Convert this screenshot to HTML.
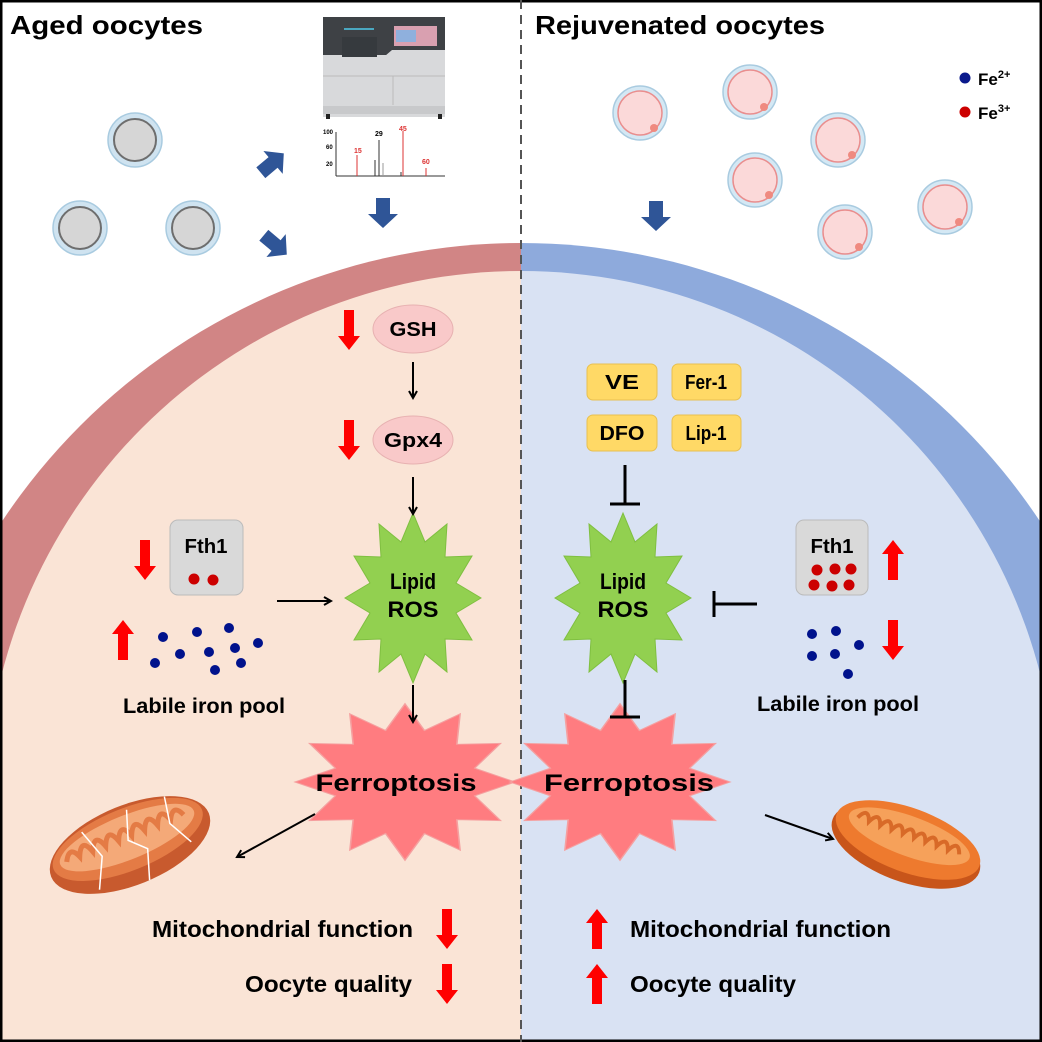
<!DOCTYPE html>
<html><head><meta charset="utf-8"><style>
html,body{margin:0;padding:0;background:#fff;width:1042px;height:1042px;overflow:hidden}
svg{display:block;position:absolute;left:0;top:0}
text{font-family:"Liberation Sans",Arial,sans-serif;font-weight:bold;fill:#000}
</style></head><body>
<svg width="1042" height="1042" viewBox="0 0 1042 1042" xmlns="http://www.w3.org/2000/svg">
<defs>
<polygon id="star" points="68,0 43,15 59,42 32,41 34,74 12,56 0,85 -12,56 -34,74 -32,41 -59,42 -43,15 -68,0 -43,-15 -59,-42 -32,-41 -34,-74 -12,-56 0,-85 12,-56 34,-74 32,-41 59,-42 43,-15"/>
<marker id="ah" markerWidth="10" markerHeight="10" refX="8" refY="5" orient="auto" markerUnits="userSpaceOnUse"><path d="M1,1 L8,5 L1,9" fill="none" stroke="#000" stroke-width="2"/></marker>
<clipPath id="cl"><rect x="0" y="0" width="521" height="1042"/></clipPath>
<clipPath id="cr"><rect x="521" y="0" width="521" height="1042"/></clipPath>
<g id="oo"><circle r="27" fill="#cfe3f0" stroke="#a9cbe0" stroke-width="1.5"/><circle r="21" fill="#d6d6d6" stroke="#6e6e6e" stroke-width="2"/></g>
<g id="po"><circle r="27" fill="#d4e8f4" stroke="#a9cbe0" stroke-width="1.5"/><circle r="22" fill="#fbd9d9" stroke="#e98e8e" stroke-width="1.5"/><circle cx="14" cy="15" r="4" fill="#ef8a80"/></g>
</defs>
<rect width="1042" height="1042" fill="#fff"/>
<g clip-path="url(#cl)">
<circle cx="521" cy="866" r="623" fill="#d18585"/>
<circle cx="521" cy="807" r="536" fill="#fae4d6"/>
<rect x="0" y="807" width="521" height="240" fill="#fae4d6"/>
</g>
<g clip-path="url(#cr)">
<circle cx="521" cy="866" r="623" fill="#8eaadc"/>
<circle cx="521" cy="807" r="536" fill="#d9e2f3"/>
<rect x="521" y="807" width="521" height="240" fill="#d9e2f3"/>
</g>
<rect x="0" y="0" width="1042" height="1042" fill="none" stroke="#000" stroke-width="5"/>
<line x1="521" y1="0" x2="521" y2="1042" stroke="#555" stroke-width="2" stroke-dasharray="9,6"/>
<text x="10" y="34" font-size="26" textLength="193" lengthAdjust="spacingAndGlyphs">Aged oocytes</text>
<text x="535" y="34" font-size="26" textLength="290" lengthAdjust="spacingAndGlyphs">Rejuvenated oocytes</text>
<use href="#oo" x="135" y="140"/><use href="#oo" x="80" y="228"/><use href="#oo" x="193" y="228"/>
<use href="#po" x="640" y="113"/><use href="#po" x="750" y="92"/><use href="#po" x="838" y="140"/>
<use href="#po" x="755" y="180"/><use href="#po" x="845" y="232"/><use href="#po" x="945" y="207"/>
<circle cx="965" cy="78" r="5.5" fill="#0a1a8c"/><text x="978" y="85" font-size="17">Fe<tspan font-size="11" dy="-7">2+</tspan></text>
<circle cx="965" cy="112" r="5.5" fill="#c00"/><text x="978" y="119" font-size="17">Fe<tspan font-size="11" dy="-7">3+</tspan></text>
<g fill="#2f5597">
<polygon points="-12,-7 4,-7 4,-15 18,0 4,15 4,7 -12,7" transform="translate(270,165) rotate(-40)"/>
<polygon points="-12,-7 4,-7 4,-15 18,0 4,15 4,7 -12,7" transform="translate(273,243) rotate(40)"/>
<polygon points="-12,-7 4,-7 4,-15 18,0 4,15 4,7 -12,7" transform="translate(383,210) rotate(90)"/>
<polygon points="-12,-7 4,-7 4,-15 18,0 4,15 4,7 -12,7" transform="translate(656,213) rotate(90)"/>
</g>
<rect x="323" y="17" width="122" height="45" fill="#3e4145"/>
<rect x="323" y="55" width="122" height="62" fill="#d8d9db"/>
<path d="M323,62 L378,62 L392,50 L445,50 L445,62" fill="#d8d9db"/>
<rect x="394" y="26" width="43" height="20" fill="#d9a0b0"/>
<rect x="396" y="30" width="20" height="12" fill="#8fb0dd"/>
<rect x="344" y="28" width="30" height="2" fill="#4aa7c0"/>
<rect x="342" y="37" width="35" height="20" fill="#363a3e"/>
<line x1="323" y1="76" x2="445" y2="76" stroke="#bbb"/>
<line x1="393" y1="76" x2="393" y2="105" stroke="#bbb"/>
<rect x="323" y="106" width="122" height="8" fill="#c8c9cb"/>
<rect x="326" y="114" width="4" height="5" fill="#222"/><rect x="438" y="114" width="4" height="5" fill="#222"/>
<g stroke-width="1">
<line x1="336" y1="132" x2="336" y2="176" stroke="#333"/>
<line x1="336" y1="176" x2="445" y2="176" stroke="#333"/>
<line x1="357" y1="176" x2="357" y2="155" stroke="#d33"/>
<line x1="375" y1="176" x2="375" y2="160" stroke="#333"/>
<line x1="379" y1="176" x2="379" y2="140" stroke="#333"/>
<line x1="383" y1="176" x2="383" y2="163" stroke="#999"/>
<line x1="403" y1="176" x2="403" y2="131" stroke="#d33"/>
<line x1="401" y1="176" x2="401" y2="172" stroke="#333"/>
<line x1="426" y1="176" x2="426" y2="168" stroke="#d33"/>
</g>
<g style="font-weight:normal">
<text x="323" y="134" font-size="6">100</text><text x="326" y="149" font-size="6">60</text><text x="326" y="166" font-size="6">20</text>
<text x="354" y="153" font-size="7" style="fill:#d33">15</text>
<text x="375" y="136" font-size="7">29</text>
<text x="399" y="131" font-size="7" style="fill:#d33">45</text>
<text x="422" y="164" font-size="7" style="fill:#d33">60</text>
</g>
<g fill="#f00">
<polygon points="-5,-20 5,-20 5,6 11,6 0,20 -11,6 -5,6" transform="translate(349,330)"/>
<polygon points="-5,-20 5,-20 5,6 11,6 0,20 -11,6 -5,6" transform="translate(349,440)"/>
<polygon points="-5,-20 5,-20 5,6 11,6 0,20 -11,6 -5,6" transform="translate(145,560)"/>
<polygon points="-5,-20 5,-20 5,6 11,6 0,20 -11,6 -5,6" transform="translate(123,640) rotate(180)"/>
<polygon points="-5,-20 5,-20 5,6 11,6 0,20 -11,6 -5,6" transform="translate(447,929)"/>
<polygon points="-5,-20 5,-20 5,6 11,6 0,20 -11,6 -5,6" transform="translate(447,984)"/>
<polygon points="-5,-20 5,-20 5,6 11,6 0,20 -11,6 -5,6" transform="translate(893,560) rotate(180)"/>
<polygon points="-5,-20 5,-20 5,6 11,6 0,20 -11,6 -5,6" transform="translate(893,640)"/>
<polygon points="-5,-20 5,-20 5,6 11,6 0,20 -11,6 -5,6" transform="translate(597,929) rotate(180)"/>
<polygon points="-5,-20 5,-20 5,6 11,6 0,20 -11,6 -5,6" transform="translate(597,984) rotate(180)"/>
</g>
<ellipse cx="413" cy="329" rx="40" ry="24" fill="#f9c9c9" stroke="#e7b1b1"/>
<text x="413" y="336" font-size="20" text-anchor="middle" textLength="47" lengthAdjust="spacingAndGlyphs">GSH</text>
<ellipse cx="413" cy="440" rx="40" ry="24" fill="#f9c9c9" stroke="#e7b1b1"/>
<text x="413" y="447" font-size="20" text-anchor="middle" textLength="58" lengthAdjust="spacingAndGlyphs">Gpx4</text>
<use href="#star" transform="translate(413,598)" fill="#92d050" stroke="#7fbf40"/>
<use href="#star" transform="translate(405,782) scale(1.62,0.92)" fill="#ff7c80" stroke="#f5a0a0"/>
<use href="#star" transform="translate(623,598)" fill="#92d050" stroke="#7fbf40"/>
<use href="#star" transform="translate(620,782) scale(1.62,0.92)" fill="#ff7c80" stroke="#f5a0a0"/>
<g stroke="#000" stroke-width="2" fill="none">
<line x1="413" y1="362" x2="413" y2="398" marker-end="url(#ah)"/>
<line x1="413" y1="477" x2="413" y2="514" marker-end="url(#ah)"/>
<line x1="277" y1="601" x2="331" y2="601" marker-end="url(#ah)"/>
<line x1="413" y1="685" x2="413" y2="722" marker-end="url(#ah)"/>
<line x1="315" y1="814" x2="237" y2="857" marker-end="url(#ah)"/>
<line x1="765" y1="815" x2="833" y2="839" marker-end="url(#ah)"/>
</g>
<text x="413" y="589" font-size="22" text-anchor="middle" textLength="46" lengthAdjust="spacingAndGlyphs">Lipid</text>
<text x="413" y="617" font-size="22" text-anchor="middle" textLength="51" lengthAdjust="spacingAndGlyphs">ROS</text>
<rect x="170" y="520" width="73" height="75" rx="8" fill="#d9d9d9" stroke="#bbb"/>
<text x="206" y="553" font-size="20" text-anchor="middle" textLength="43" lengthAdjust="spacingAndGlyphs">Fth1</text>
<circle cx="194" cy="579" r="5.5" fill="#c00"/><circle cx="213" cy="580" r="5.5" fill="#c00"/>
<g fill="#00128c">
<circle cx="163" cy="637" r="5"/><circle cx="197" cy="632" r="5"/><circle cx="229" cy="628" r="5"/><circle cx="258" cy="643" r="5"/>
<circle cx="180" cy="654" r="5"/><circle cx="209" cy="652" r="5"/><circle cx="235" cy="648" r="5"/>
<circle cx="155" cy="663" r="5"/><circle cx="215" cy="670" r="5"/><circle cx="241" cy="663" r="5"/>
</g>
<text x="204" y="713" font-size="21" text-anchor="middle" textLength="162" lengthAdjust="spacingAndGlyphs">Labile iron pool</text>
<text x="396" y="791" font-size="24" text-anchor="middle" textLength="161" lengthAdjust="spacingAndGlyphs">Ferroptosis</text>
<g transform="translate(130,845) rotate(-22)">
<ellipse rx="85" ry="40" fill="#c85a2e"/>
<ellipse rx="80" ry="31" cy="-6" fill="#e47b45"/>
<ellipse rx="72" ry="22" cy="-8" fill="#f4a978"/>
<path d="M-65,-8 q8,-15 14,0 q8,-18 14,0 q8,-18 14,0 q8,-18 14,0 q8,-18 14,0 q8,-18 14,0 q8,-18 14,0 q8,-18 14,0 q8,-15 14,0" fill="none" stroke="#e47b45" stroke-width="5"/>
<path d="M-40,-30 L-30,0 L-45,30 M10,-34 L0,-5 L15,10 L5,40 M50,-32 L45,-5 L58,20" stroke="#fff" stroke-width="1.5" fill="none"/>
</g>
<text x="413" y="937" font-size="23" text-anchor="end" textLength="261" lengthAdjust="spacingAndGlyphs">Mitochondrial function</text>
<text x="412" y="992" font-size="23" text-anchor="end" textLength="167" lengthAdjust="spacingAndGlyphs">Oocyte quality</text>
<g font-size="20" text-anchor="middle">
<rect x="587" y="364" width="70" height="36" rx="6" fill="#ffd966" stroke="#e8c050"/><text x="622" y="389" textLength="34" lengthAdjust="spacingAndGlyphs">VE</text>
<rect x="672" y="364" width="69" height="36" rx="6" fill="#ffd966" stroke="#e8c050"/><text x="706" y="389" textLength="42" lengthAdjust="spacingAndGlyphs">Fer-1</text>
<rect x="587" y="415" width="70" height="36" rx="6" fill="#ffd966" stroke="#e8c050"/><text x="622" y="440" textLength="45" lengthAdjust="spacingAndGlyphs">DFO</text>
<rect x="672" y="415" width="69" height="36" rx="6" fill="#ffd966" stroke="#e8c050"/><text x="706" y="440" textLength="41" lengthAdjust="spacingAndGlyphs">Lip-1</text>
</g>
<g stroke="#000" stroke-width="3">
<line x1="625" y1="465" x2="625" y2="504"/><line x1="610" y1="504" x2="640" y2="504"/>
<line x1="625" y1="680" x2="625" y2="717"/><line x1="610" y1="717" x2="640" y2="717"/>
<line x1="757" y1="604" x2="714" y2="604"/><line x1="714" y1="591" x2="714" y2="617"/>
</g>
<text x="623" y="589" font-size="22" text-anchor="middle" textLength="46" lengthAdjust="spacingAndGlyphs">Lipid</text>
<text x="623" y="617" font-size="22" text-anchor="middle" textLength="51" lengthAdjust="spacingAndGlyphs">ROS</text>
<rect x="796" y="520" width="72" height="75" rx="8" fill="#d9d9d9" stroke="#bbb"/>
<text x="832" y="553" font-size="20" text-anchor="middle" textLength="43" lengthAdjust="spacingAndGlyphs">Fth1</text>
<g fill="#c00"><circle cx="817" cy="570" r="5.5"/><circle cx="835" cy="569" r="5.5"/><circle cx="851" cy="569" r="5.5"/>
<circle cx="814" cy="585" r="5.5"/><circle cx="832" cy="586" r="5.5"/><circle cx="849" cy="585" r="5.5"/></g>
<g fill="#00128c"><circle cx="812" cy="634" r="5"/><circle cx="836" cy="631" r="5"/><circle cx="859" cy="645" r="5"/>
<circle cx="812" cy="656" r="5"/><circle cx="835" cy="654" r="5"/><circle cx="848" cy="674" r="5"/></g>
<text x="838" y="711" font-size="21" text-anchor="middle" textLength="162" lengthAdjust="spacingAndGlyphs">Labile iron pool</text>
<text x="629" y="791" font-size="24" text-anchor="middle" textLength="170" lengthAdjust="spacingAndGlyphs">Ferroptosis</text>
<g transform="translate(908,840) rotate(20)">
<ellipse rx="78" ry="36" cy="6" fill="#c8551a"/>
<ellipse rx="76" ry="32" fill="#ee7a2e"/>
<ellipse rx="64" ry="20" cy="-4" fill="#f6a15a"/>
<path d="M-55,-4 q7,-14 12,0 q7,-14 12,0 q7,-14 12,0 q7,-14 12,0 q7,-14 12,0 q7,-14 12,0 q7,-14 12,0 q7,-14 12,0 q7,-14 12,0" fill="none" stroke="#d86a28" stroke-width="4"/>
</g>
<text x="630" y="937" font-size="23" textLength="261" lengthAdjust="spacingAndGlyphs">Mitochondrial function</text>
<text x="630" y="992" font-size="23" textLength="166" lengthAdjust="spacingAndGlyphs">Oocyte quality</text>
</svg>
</body></html>
